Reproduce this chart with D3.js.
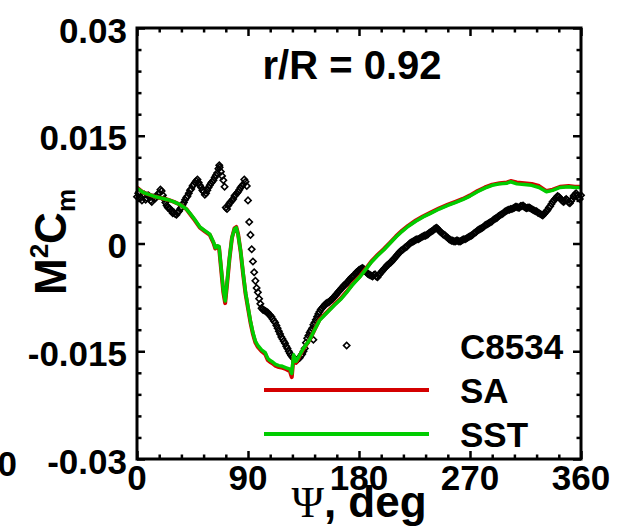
<!DOCTYPE html>
<html><head><meta charset="utf-8">
<script src="https://cdn.jsdelivr.net/npm/d3@7/dist/d3.min.js"></script>
<style>
html,body{margin:0;padding:0;background:#fff;}
svg{display:block;}
text{font-family:"Liberation Sans",Arial,Helvetica,sans-serif;font-weight:bold;fill:#000;}
</style></head>
<body>
<svg id="chart" width="624" height="528"></svg>
<script>
// ---------------- data ----------------
const xTicks = [0, 90, 180, 270, 360];
const xTickLabels = ["0", "90", "180", "270", "360"];
const yTicks = [-0.03, -0.015, 0, 0.015, 0.03];
const yTickLabels = ["-0.03", "-0.015", "0", "0.015", "0.03"];
const seriesNames = ["C8534", "SA", "SST"];
const titleText = "r/R = 0.92";

// experimental data C8534: values at even azimuths (0,2,...,360)
const c8534Even = [
 0.0065,0.0072,0.0060,0.0068,0.0063,0.0066,0.0058,0.0062,0.0066,0.0070,
 0.0073,0.0062,0.0053,0.0049,0.0045,0.0043,0.0040,0.0045,0.0050,0.0057,
 0.0064,0.0070,0.0076,0.0082,0.0087,0.0085,0.0078,0.0072,0.0070,0.0078,
 0.0084,0.0088,0.0095,0.0104,0.0100,0.0088,0.0050,0.0053,0.0058,0.0062,
 0.0068,0.0072,0.0078,0.0082,0.0086,0.0060,0.0012,-0.0025,-0.0052,-0.0068,
 -0.0084,-0.0092,-0.0094,-0.0096,-0.0100,-0.0105,-0.0110,-0.0118,-0.0126,-0.0133,
 -0.0139,-0.0146,-0.0153,-0.0158,-0.0161,-0.0162,-0.0159,-0.0154,-0.0146,-0.0132,
 -0.0124,-0.0118,-0.0110,-0.0102,-0.0095,-0.0090,-0.0086,-0.0083,-0.0081,-0.0078,
 -0.0074,-0.0070,-0.0066,-0.0062,-0.0058,-0.0055,-0.0051,-0.0047,-0.0045,-0.0040,
 -0.0037,-0.0035,-0.0036,-0.0040,-0.0043,-0.0045,-0.0044,-0.0046,-0.0044,-0.0040,
 -0.0036,-0.0032,-0.0029,-0.0026,-0.0022,-0.0018,-0.0014,-0.0010,-0.0008,-0.0005,
 -0.0002,0.0001,0.0003,0.0005,0.0006,0.0008,0.0010,0.0011,0.0013,0.0016,
 0.0018,0.0021,0.0020,0.0016,0.0013,0.0011,0.0008,0.0005,0.0004,0.0003,
 0.0004,0.0003,0.0005,0.0006,0.0008,0.0010,0.0012,0.0015,0.0018,0.0020,
 0.0022,0.0025,0.0027,0.0029,0.0031,0.0034,0.0036,0.0039,0.0041,0.0044,
 0.0046,0.0047,0.0048,0.0050,0.0051,0.0050,0.0052,0.0051,0.0049,0.0050,
 0.0048,0.0046,0.0045,0.0042,0.0040,0.0041,0.0045,0.0050,0.0055,0.0060,
 0.0064,0.0065,0.0061,0.0058,0.0062,0.0057,0.0059,0.0066,0.0070,0.0064,
 0.0067
];
// experimental data C8534: values at odd azimuths (1,3,...,359)
const c8534Odd = [
 0.0070,0.0064,0.0066,0.0061,0.0067,0.0060,0.0064,0.0063,0.0069,0.0075,
 0.0067,0.0057,0.0050,0.0048,0.0042,0.0041,0.0043,0.0048,0.0054,0.0061,
 0.0066,0.0074,0.0080,0.0085,0.0089,0.0081,0.0074,0.0068,0.0074,0.0081,
 0.0086,0.0092,0.0098,0.0106,0.0094,0.0079,0.0048,0.0056,0.0060,0.0066,
 0.0070,0.0075,0.0080,0.0089,0.0080,0.0030,-0.0008,-0.0040,-0.0062,-0.0077,
 -0.0090,-0.0093,-0.0095,-0.0099,-0.0102,-0.0108,-0.0114,-0.0122,-0.0130,-0.0136,
 -0.0143,-0.0150,-0.0156,-0.0160,-0.0163,-0.0160,-0.0156,-0.0150,-0.0138,-0.0128,
 -0.0121,-0.0113,-0.0106,-0.0098,-0.0092,-0.0088,-0.0084,-0.0082,-0.0079,-0.0076,
 -0.0072,-0.0068,-0.0064,-0.0060,-0.0057,-0.0053,-0.0049,-0.0046,-0.0042,-0.0039,
 -0.0036,-0.0034,-0.0038,-0.0042,-0.0044,-0.0046,-0.0043,-0.0047,-0.0042,-0.0038,
 -0.0034,-0.0030,-0.0027,-0.0024,-0.0020,-0.0016,-0.0012,-0.0009,-0.0006,-0.0004,
 0.0000,0.0002,0.0004,0.0006,0.0007,0.0009,0.0011,0.0012,0.0015,0.0017,
 0.0020,0.0022,0.0018,0.0015,0.0012,0.0009,0.0006,0.0004,0.0003,0.0004,
 0.0003,0.0004,0.0006,0.0007,0.0009,0.0011,0.0014,0.0016,0.0019,0.0021,
 0.0023,0.0026,0.0028,0.0030,0.0033,0.0035,0.0038,0.0040,0.0042,0.0045,
 0.0047,0.0048,0.0049,0.0051,0.0050,0.0052,0.0053,0.0050,0.0050,0.0049,
 0.0047,0.0045,0.0043,0.0041,0.0039,0.0043,0.0047,0.0052,0.0058,0.0062,
 0.0066,0.0063,0.0059,0.0060,0.0060,0.0056,0.0062,0.0068,0.0067,0.0062
];
// isolated experimental points [psi, value]
const c8534Extra = [[170, -0.0142], [66.7, 0.0109], [143, -0.0134]];

// CFD lines
const sstPsi = [0,5,10,15,20,25,30,35,40,43,47,51,55,59,62,63.5,65,66.5,68,70,71.5,73,75,77,79,80.5,82,84,86,88,90,92,94,96,98,101,104,106,108,110,112,115,118,121,124,125.5,127,129,132,135,140,144,148,152,156,160,165,170,175,181,186,190,195,200,205,210,215,220,226,232,238,245,252,258,264,270,276,282,288,294,300,303,308,314,320,326,332,337,343,350,355,360];
const sstValues = [0.0077,0.0071,0.0068,0.0065,0.0063,0.0061,0.0058,0.0054,0.0048,0.0042,0.0033,0.0023,0.0018,0.0013,0.0002,-0.0006,-0.0003,-0.0004,-0.0030,-0.0065,-0.0080,-0.0055,-0.0020,0.0008,0.0020,0.0022,0.0012,-0.0010,-0.0040,-0.0068,-0.0088,-0.0108,-0.0124,-0.0136,-0.0142,-0.0148,-0.0152,-0.0160,-0.0163,-0.0165,-0.0168,-0.0170,-0.0171,-0.0173,-0.0175,-0.0181,-0.0155,-0.0164,-0.0155,-0.0146,-0.0134,-0.0120,-0.0107,-0.0100,-0.0093,-0.0086,-0.0078,-0.0068,-0.0057,-0.0046,-0.0035,-0.0026,-0.0017,-0.0009,0.0000,0.0009,0.0017,0.0024,0.0031,0.0037,0.0042,0.0048,0.0053,0.0057,0.0061,0.0066,0.0072,0.0077,0.0081,0.0083,0.0084,0.0086,0.0083,0.0082,0.0081,0.0078,0.0072,0.0074,0.0078,0.0079,0.0078,0.0078];
const saPsi = sstPsi;
const saValues = [0.0078,0.0071,0.0068,0.0065,0.0063,0.0061,0.0058,0.0054,0.0048,0.0041,0.0032,0.0022,0.0017,0.0012,0.0001,-0.0007,-0.0004,-0.0005,-0.0032,-0.0068,-0.0083,-0.0057,-0.0021,0.0008,0.0021,0.0023,0.0013,-0.0011,-0.0042,-0.0070,-0.0090,-0.0110,-0.0126,-0.0138,-0.0144,-0.0150,-0.0154,-0.0162,-0.0165,-0.0167,-0.0170,-0.0172,-0.0173,-0.0175,-0.0178,-0.0186,-0.0157,-0.0166,-0.0156,-0.0147,-0.0134,-0.0120,-0.0106,-0.0099,-0.0092,-0.0085,-0.0077,-0.0067,-0.0056,-0.0045,-0.0034,-0.0025,-0.0016,-0.0008,0.0001,0.0010,0.0018,0.0025,0.0032,0.0038,0.0043,0.0049,0.0054,0.0058,0.0062,0.0067,0.0073,0.0078,0.0082,0.0084,0.0085,0.0087,0.0085,0.0084,0.0083,0.0080,0.0073,0.0075,0.0079,0.0080,0.0079,0.0079];

// ---------------- chart ----------------
const svg = d3.select("#chart");
const pLeft = 137, pRight = 581, pTop = 28, pBottom = 459;
const x = d3.scaleLinear().domain([0, 360]).range([pLeft, pRight]);
const y = d3.scaleLinear().domain([-0.03, 0.03]).range([pBottom, pTop]);
const RED = "#d40000", GREEN = "#00cc00";

const xMinor = d3.range(0, 361, 18).filter(v => v % 90 !== 0);
const yMinor = d3.range(-30, 31, 3).filter(v => v % 15 !== 0).map(v => v / 1000);

function styleAxis(g) {
  g.select(".domain").remove();
  g.selectAll(".tick line").attr("stroke", "#000").attr("stroke-width", 2.5);
}

// ticks (inward) on all four sides
svg.append("g").attr("transform", `translate(0,${pBottom})`)
  .call(d3.axisBottom(x).tickValues(xTicks).tickSize(-8).tickFormat("")).call(styleAxis);
svg.append("g").attr("transform", `translate(0,${pBottom})`)
  .call(d3.axisBottom(x).tickValues(xMinor).tickSize(-4.5).tickFormat("")).call(styleAxis);
svg.append("g").attr("transform", `translate(0,${pTop})`)
  .call(d3.axisTop(x).tickValues(xTicks).tickSize(-8).tickFormat("")).call(styleAxis);
svg.append("g").attr("transform", `translate(0,${pTop})`)
  .call(d3.axisTop(x).tickValues(xMinor).tickSize(-4.5).tickFormat("")).call(styleAxis);
svg.append("g").attr("transform", `translate(${pLeft},0)`)
  .call(d3.axisLeft(y).tickValues(yTicks).tickSize(-8).tickFormat("")).call(styleAxis);
svg.append("g").attr("transform", `translate(${pLeft},0)`)
  .call(d3.axisLeft(y).tickValues(yMinor).tickSize(-4.5).tickFormat("")).call(styleAxis);
svg.append("g").attr("transform", `translate(${pRight},0)`)
  .call(d3.axisRight(y).tickValues(yTicks).tickSize(-8).tickFormat("")).call(styleAxis);
svg.append("g").attr("transform", `translate(${pRight},0)`)
  .call(d3.axisRight(y).tickValues(yMinor).tickSize(-4.5).tickFormat("")).call(styleAxis);

// tick labels
svg.append("g").selectAll("text").data(xTicks).join("text")
  .attr("x", d => x(d)).attr("y", 490).attr("text-anchor", "middle")
  .attr("font-size", 35).text((d, i) => xTickLabels[i]);
svg.append("g").selectAll("text").data(yTicks).join("text")
  .attr("x", pLeft - 10).attr("y", d => y(d) + 2).attr("dy", "0.36em").attr("text-anchor", "end")
  .attr("font-size", 35).text((d, i) => yTickLabels[i]);

// stray label from neighbouring panel
svg.append("text").attr("x", 17).attr("y", 463).attr("dy", "0.36em")
  .attr("text-anchor", "end").attr("font-size", 35).text("0");

// experimental points
const expData = c8534Even.map((v, i) => [i * 2, v])
  .concat(c8534Odd.map((v, i) => [i * 2 + 1, v]))
  .concat(c8534Extra);
svg.append("g").selectAll("path").data(expData).join("path")
  .attr("d", d3.symbol(d3.symbolSquare, 20)())
  .attr("transform", d => `translate(${x(d[0])},${y(d[1])}) rotate(45)`)
  .attr("fill", "none").attr("stroke", "#000").attr("stroke-width", 1.6);

// lines
const line = d3.line().x(d => x(d[0])).y(d => y(d[1]));
svg.append("path").datum(saPsi.map((p, i) => [p, saValues[i]]))
  .attr("d", line).attr("fill", "none").attr("stroke", RED).attr("stroke-width", 4)
  .attr("stroke-linejoin", "round");
svg.append("path").datum(sstPsi.map((p, i) => [p, sstValues[i]]))
  .attr("d", line).attr("fill", "none").attr("stroke", GREEN).attr("stroke-width", 3.5)
  .attr("stroke-linejoin", "round");

// frame
svg.append("rect").attr("x", pLeft).attr("y", pTop).attr("width", pRight - pLeft).attr("height", pBottom - pTop)
  .attr("fill", "none").attr("stroke", "#000").attr("stroke-width", 3);

// title
svg.append("text").attr("x", 352).attr("y", 79).attr("text-anchor", "middle")
  .attr("font-size", 40).text(titleText);

// legend
const legY = [346, 390, 434];
svg.append("line").attr("x1", 264).attr("x2", 429).attr("y1", legY[1]).attr("y2", legY[1])
  .attr("stroke", RED).attr("stroke-width", 4);
svg.append("line").attr("x1", 264).attr("x2", 429).attr("y1", legY[2]).attr("y2", legY[2])
  .attr("stroke", GREEN).attr("stroke-width", 4);
svg.append("g").selectAll("text").data(seriesNames).join("text")
  .attr("x", 460).attr("y", (d, i) => legY[i]).attr("dy", "0.36em")
  .attr("font-size", 35).text(d => d);

// axis titles
const yl = svg.append("text").attr("transform", "translate(66,242) rotate(-90)")
  .attr("text-anchor", "middle").attr("font-size", 44);
yl.append("tspan").text("M");
yl.append("tspan").attr("font-size", 26).attr("dy", -18).text("2");
yl.append("tspan").attr("dy", 18).text("C");
yl.append("tspan").attr("font-size", 26).attr("dy", 9).text("m");

const xl = svg.append("text").attr("x", 359).attr("y", 517).attr("text-anchor", "middle").attr("font-size", 44);
xl.append("tspan").attr("font-family", "'Liberation Serif','Times New Roman',serif").attr("font-weight", "normal").text("Ψ");
xl.append("tspan").text(", deg");
</script>
</body></html>
